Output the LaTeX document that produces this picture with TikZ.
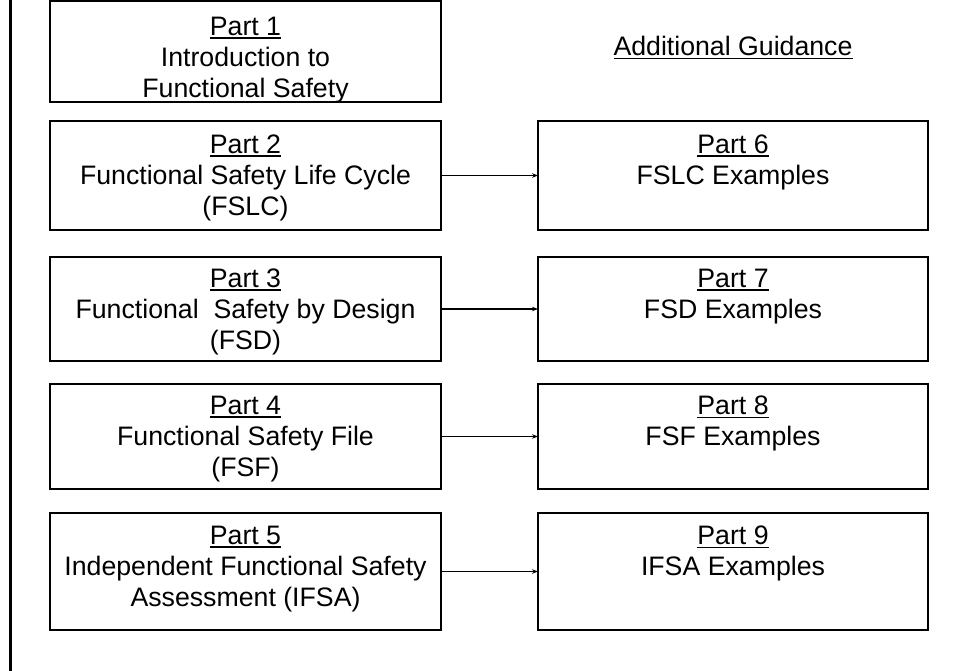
\documentclass[tikz,border=0pt]{standalone}
\usepackage{fontspec}
\setmainfont{Liberation Sans}
\usetikzlibrary{arrows.meta}
\newcommand\ulpart[1]{\setbox0=\hbox{#1}\leavevmode\rlap{\rule[-3.5pt]{\wd0}{1.6pt}}\box0}
\begin{document}
\begin{tikzpicture}[x=1pt,y=-1pt,
  box/.style={draw=black,line width=1.6pt,minimum width=391pt,inner sep=0pt,outer sep=0pt},
  txt/.style={align=center,font=\fontsize{26.7}{31}\selectfont,inner sep=0pt,text=black},
  conn/.style={line width=1.1pt,-{Stealth[length=6pt,width=4.5pt]}}]
\useasboundingbox (0,0) rectangle (955,671);
\coordinate (ltop) at (10.5,0);
\coordinate (lbot) at (10.5,671);
\draw[line width=2.4pt] (ltop) -- (lbot);
% left boxes
\node[box,minimum height=101pt] (b1) at (245.5,51.5) {};
\node[box,minimum height=109pt] (b2) at (245.5,175.5) {};
\node[box,minimum height=104pt] (b3) at (245.5,309) {};
\node[box,minimum height=105pt] (b4) at (245.5,436.5) {};
\node[box,minimum height=117pt] (b5) at (245.5,571.5) {};
% right boxes
\node[box,minimum width=390pt,minimum height=109pt] (b6) at (733,175.5) {};
\node[box,minimum width=390pt,minimum height=104pt] (b7) at (733,309) {};
\node[box,minimum width=390pt,minimum height=105pt] (b8) at (733,436.5) {};
\node[box,minimum width=390pt,minimum height=117pt] (b9) at (733,571.5) {};
% texts
\node[txt] (t1) at (245.5,60) {\ulpart{Part 1}\\Introduction to\\Functional Safety};
\node[txt] (t2) at (245.5,177.5) {\ulpart{Part 2}\\Functional Safety Life Cycle\\(FSLC)};
\node[txt] (t3) at (245.5,312) {\ulpart{Part 3}\\Functional\ \ Safety by Design\\(FSD)};
\node[txt] (t4) at (245.5,439) {\ulpart{Part 4}\\Functional Safety File\\(FSF)};
\node[txt] (t5) at (245.5,569) {\ulpart{Part 5}\\Independent Functional Safety\\Assessment (IFSA)};
\node[txt,anchor=north] (t6) at (b6.center |- t2.north) {\ulpart{Part 6}\\FSLC Examples};
\node[txt,anchor=north] (t7) at (b7.center |- t3.north) {\ulpart{Part 7}\\FSD Examples};
\node[txt,anchor=north] (t8) at (b8.center |- t4.north) {\ulpart{Part 8}\\FSF Examples};
\node[txt,anchor=north] (t9) at (b9.center |- t5.north) {\ulpart{Part 9}\\IFSA Examples};
\node[txt] (ag) at (733,48) {\ulpart{Additional Guidance}};
% connectors
\draw[conn] (b2.east) -- (b6.west);
\draw[conn] (b3.east) -- (b7.west);
\draw[conn] (b4.east) -- (b8.west);
\draw[conn] (b5.east) -- (b9.west);
\end{tikzpicture}
\end{document}
